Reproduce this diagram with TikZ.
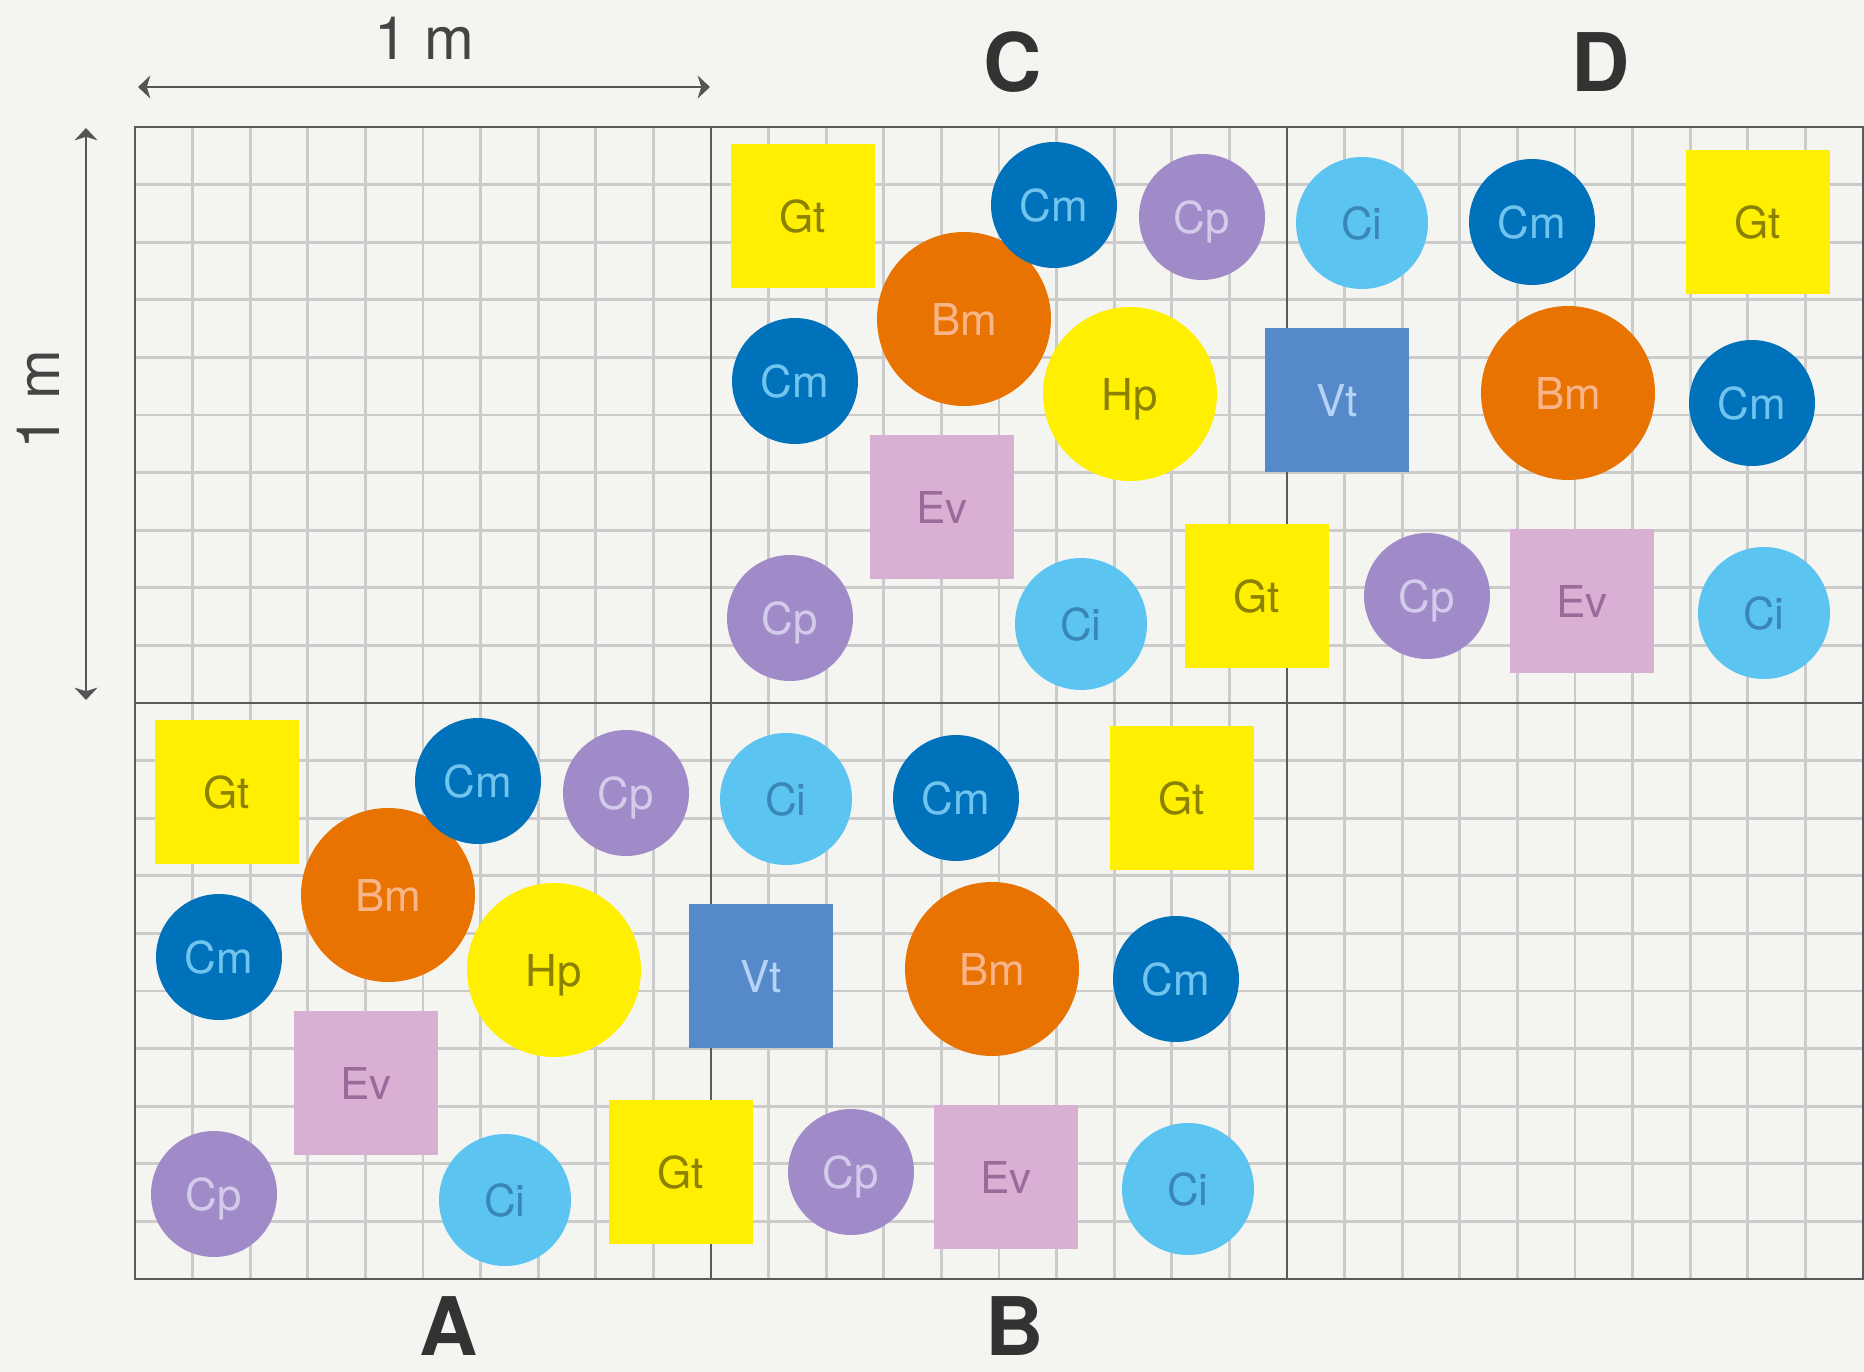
\documentclass[tikz,border=0pt]{standalone}
\usepackage{fontspec}
\setmainfont{TeX Gyre Heros}
\usetikzlibrary{arrows.meta}
\definecolor{bgc}{HTML}{F4F4F0}
\definecolor{minorc}{HTML}{CBCBCB}
\definecolor{majorc}{HTML}{5A5A5A}
\definecolor{dimc}{HTML}{555555}
\definecolor{gtfill}{HTML}{FFEF00}
\definecolor{gttext}{HTML}{8C8100}
\definecolor{evfill}{HTML}{D9AFD4}
\definecolor{evtext}{HTML}{9A6A98}
\definecolor{vtfill}{HTML}{5689CA}
\definecolor{vttext}{HTML}{B6D3F5}
\definecolor{cmfill}{HTML}{0071BB}
\definecolor{cmtext}{HTML}{70C4EE}
\definecolor{cpfill}{HTML}{A08BC8}
\definecolor{cptext}{HTML}{D4CBEC}
\definecolor{cifill}{HTML}{5CC4F1}
\definecolor{citext}{HTML}{3A86B8}
\definecolor{bmfill}{HTML}{E97300}
\definecolor{bmtext}{HTML}{F8B58A}
\tikzset{
  shp/.style={inner sep=0pt, draw=none, text depth=0pt, font=\fontsize{25}{30}\selectfont},
  sq/.style={shp, rectangle, minimum size=2.88cm},
  smc/.style={shp, circle, minimum size=2.52cm},
  cic/.style={shp, circle, minimum size=2.64cm},
  bigc/.style={shp, circle, minimum size=3.48cm},
  sGt/.style={sq, fill=gtfill, text=gttext},
  sEv/.style={sq, fill=evfill, text=evtext},
  sVt/.style={sq, fill=vtfill, text=vttext},
  sCm/.style={smc, fill=cmfill, text=cmtext},
  sCp/.style={smc, fill=cpfill, text=cptext},
  sCi/.style={cic, fill=cifill, text=citext},
  sBm/.style={bigc, fill=bmfill, text=bmtext},
  sHp/.style={bigc, fill=gtfill, text=gttext},
  minorline/.style={draw=minorc, line width=1.6pt},
  majorline/.style={draw=majorc, line width=1.3pt},
  borderline/.style={draw=majorc, line width=1.6pt},
  dimarrow/.style={draw=dimc, line width=1.5pt, {Stealth[length=7pt,width=13pt,inset=2pt]}-{Stealth[length=7pt,width=13pt,inset=2pt]}},
  dimlabel/.style={text=dimc!80!black, font=\fontsize{34}{40}\selectfont, inner sep=0pt},
  celllabel/.style={text=black!80, font=\bfseries\fontsize{46}{52}\selectfont, inner sep=0pt}
}
\begin{document}
\begin{tikzpicture}[x=0.02cm,y=-0.02cm]
\useasboundingbox (0,0) rectangle (1864,1372);
\fill[bgc] (0,0) rectangle (1864,1372);
% minor grid
\foreach \i in {0,...,30} \draw[minorline] ({135+\i*57.6},127) -- ({135+\i*57.6},1279);
\foreach \j in {0,...,20} \draw[minorline] (135,{127+\j*57.6}) -- (1864,{127+\j*57.6});
% major grid
\draw[majorline] (711,127) -- (711,1279);
\draw[majorline] (1287,127) -- (1287,1279);
\draw[majorline] (135,703) -- (1864,703);
\draw[borderline] (1864,127) -- (135,127) -- (135,1279) -- (1864,1279);
\draw[majorline] (1863,127) -- (1863,1279);
% pattern A / C
\foreach \ox/\oy/\p in {135/703/A, 711/127/C} {
  \begin{scope}[shift={(\ox,\oy)}]
    \node[sGt] (\p-Gt1) at (92,89) {Gt};
    \node[sEv] (\p-Ev1) at (231,380) {Ev};
    \node[sVt] (\p-Vt1) at (626,273) {Vt};
    \node[sGt] (\p-Gt2) at (546,469) {Gt};
    \node[sBm] (\p-Bm1) at (253,192) {Bm};
    \node[sCm] (\p-Cm1) at (343,78) {Cm};
    \node[sCp] (\p-Cp1) at (491,90) {Cp};
    \node[sCm] (\p-Cm2) at (84,254) {Cm};
    \node[sHp] (\p-Hp1) at (419,267) {Hp};
    \node[sCp] (\p-Cp2) at (79,491) {Cp};
    \node[sCi] (\p-Ci1) at (370,497) {Ci};
  \end{scope}
}
% pattern B / D
\foreach \ox/\oy/\p in {711/703/B, 1287/127/D} {
  \begin{scope}[shift={(\ox,\oy)}]
    \node[sCi] (\p-Ci1) at (75,96) {Ci};
    \node[sCm] (\p-Cm1) at (245,95) {Cm};
    \node[sGt] (\p-Gt1) at (471,95) {Gt};
    \node[sBm] (\p-Bm1) at (281,266) {Bm};
    \node[sCm] (\p-Cm2) at (465,276) {Cm};
    \node[sCp] (\p-Cp1) at (140,469) {Cp};
    \node[sEv] (\p-Ev1) at (295,474) {Ev};
    \node[sCi] (\p-Ci2) at (477,486) {Ci};
  \end{scope}
}
% dimension arrows
\coordinate (ah1) at (138,87);
\coordinate (ah2) at (710,87);
\coordinate (av1) at (86,128);
\coordinate (av2) at (86,700);
\draw[dimarrow] (ah1) -- (ah2);
\draw[dimarrow] (av1) -- (av2);
\node[dimlabel] (mh) at (424,38) {1 m};
\node[dimlabel, rotate=90] (mv) at (38,400) {1 m};
% cell labels
\node[celllabel] (labA) at (449,1326) {A};
\node[celllabel] (labB) at (1015,1326) {B};
\node[celllabel] (labC) at (1013,62) {C};
\node[celllabel] (labD) at (1601,62) {D};
\end{tikzpicture}
\end{document}
